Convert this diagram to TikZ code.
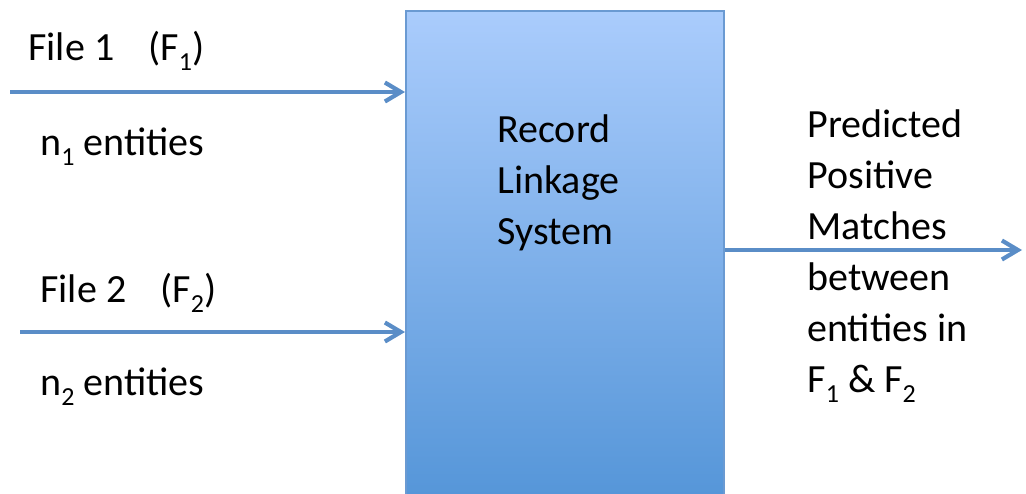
\documentclass[tikz,border=0pt]{standalone}
\usepackage{fontspec}
\setmainfont{Carlito}
\usetikzlibrary{arrows.meta}
\definecolor{flowblue}{HTML}{5A8DC7}
\definecolor{boxedge}{HTML}{6A9AD2}
\definecolor{boxtop}{HTML}{AACCFC}
\definecolor{boxbot}{HTML}{5495D8}
\newcommand\lowsub[1]{\raisebox{-5pt}{\fontsize{13}{13}\selectfont #1}}

\begin{document}
\begin{tikzpicture}[
  x=0.5pt,y=-0.5pt,
  font=\fontsize{20}{25.5}\selectfont,
  >={Straight Barb[length=8pt,width=9.5pt]},
  txt/.style={anchor=base west,inner sep=0pt,align=left},
  flow/.style={->,draw=flowblue,line width=2.1pt},
  sysbox/.style={draw=boxedge,line width=1pt,top color=boxtop,bottom color=boxbot,
    minimum width=159pt,minimum height=247pt,inner sep=0pt},
]
\clip (0,0) rectangle (1026,493);
\node[sysbox] (sys) at (565,258) {};
\node[txt] (lbl) at (497,244) {Record\\Linkage\\System};
% inputs
\node[txt] (f1) at (28,60) {File 1\hspace{0.85em}(F\lowsub{1})};
\node[txt] (c1) at (40,155) {n\lowsub{1} entities};
\node[txt] (f2) at (40,302) {File 2\hspace{0.85em}(F\lowsub{2})};
\node[txt] (c2) at (40,395) {n\lowsub{2} entities};
% output
\node[txt] (out) at (807,392) {Predicted\\Positive\\Matches\\between\\entities in\\F\lowsub{1} \& F\lowsub{2}};
\coordinate (s1) at (10,92);
\coordinate (s2) at (20,332);
\coordinate (e1) at (1022,250);
\draw[flow] (s1) -- (s1 -| sys.west);
\draw[flow] (s2) -- (s2 -| sys.west);
\draw[flow] (e1 -| sys.east) -- (e1);
\end{tikzpicture}
\end{document}
